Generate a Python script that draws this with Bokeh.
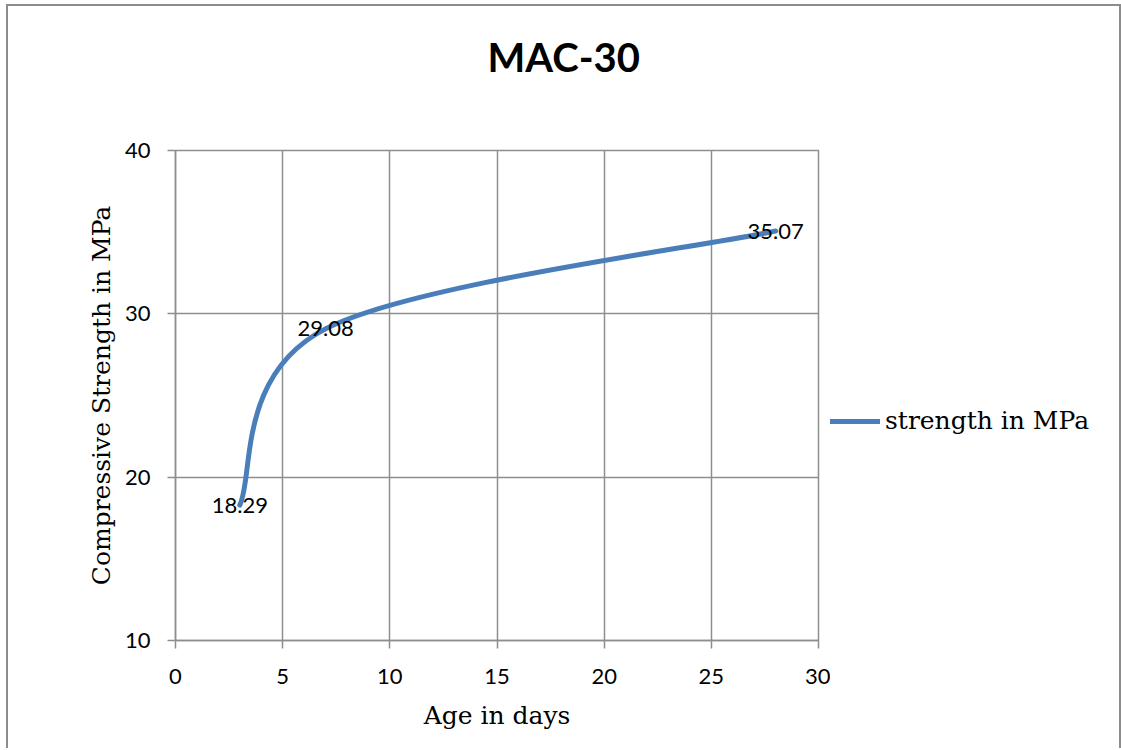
import numpy as np
from bokeh.plotting import figure
from bokeh.layouts import row
from bokeh.models import Range1d, FixedTicker, Legend, LegendItem, ColumnDataSource, Title
from bokeh.core.properties import value
from bokeh.embed import file_html
from bokeh.resources import INLINE

# Compressive strength of the MAC-30 mix at each curing age
age_days = [3, 7, 28]
strength_mpa = [18.29, 29.08, 35.07]
x_ticks = [0, 5, 10, 15, 20, 25, 30]
y_ticks = [10, 20, 30, 40]
series_name = "strength in MPa"
chart_title = "MAC-30"

GRID = "#8e8e8e"
LINE = "#4a7ebb"
SANS = "Lato"
SERIF = "DejaVu Serif"

W, H = 1111, 744           # whole chart area
PW = 822                   # plotting part; the legend strip takes the rest
ML, MT, MB = 167, 144, 110
frame_w = 643
frame_h = H - MT - MB
MR = PW - ML - frame_w

p = figure(
    width=PW, height=H,
    x_range=Range1d(0, 30), y_range=Range1d(10, 40),
    output_backend="svg", toolbar_location=None, title_location=None,
    min_border_left=ML, min_border_right=MR,
    min_border_top=MT, min_border_bottom=MB,
    background_fill_color="white", border_fill_color="white",
)

# chart title, centred over the full chart width; a blank spacer title
# keeps it clear of the plot frame
spacer = Title(text=" ", text_font_size="10px", standoff=52)
title = Title(
    text=chart_title, text_font=SANS, text_font_size="40px",
    text_font_style="bold", text_color="black",
    align="left", offset=312, standoff=10,
)
p.add_layout(spacer, "above")
p.add_layout(title, "above")

# frame and grid
p.outline_line_color = GRID
p.outline_line_width = 1.5
for g, t in ((p.xgrid, x_ticks), (p.ygrid, y_ticks)):
    g.ticker = FixedTicker(ticks=t)
    g.grid_line_color = GRID
    g.grid_line_width = 1.5

for ax, t in ((p.xaxis, x_ticks), (p.yaxis, y_ticks)):
    ax.ticker = FixedTicker(ticks=t)
    ax.axis_line_color = GRID
    ax.axis_line_width = 1.5
    ax.major_tick_line_color = GRID
    ax.major_tick_line_width = 1.5
    ax.major_tick_out = 8
    ax.major_tick_in = 0
    ax.minor_tick_line_color = None
    ax.major_label_text_font = SANS
    ax.major_label_text_font_size = "22px"
    ax.major_label_text_color = "black"
    ax.axis_label_text_font = SERIF
    ax.axis_label_text_font_size = "25px"
    ax.axis_label_text_font_style = "normal"
    ax.axis_label_text_color = "black"

p.xaxis.axis_label = "Age in days"
p.yaxis.axis_label = "Compressive Strength in MPa"
p.xaxis.major_label_standoff = 20
p.yaxis.major_label_standoff = 17
p.xaxis.axis_label_standoff = 14
p.yaxis.axis_label_standoff = 6

# smoothed line: cubic Bezier segments through the points, with tangents
# taken in screen-proportional space so the curve shape follows the layout
kx = frame_w / 30.0
ky = frame_h / 30.0
P = np.column_stack([np.array(age_days, float) * kx, np.array(strength_mpa, float) * ky])
n = len(P)
T = np.zeros_like(P)
T[0] = (P[1] - P[0]) / 2
T[-1] = (P[-1] - P[-2]) / 2
for i in range(1, n - 1):
    T[i] = (P[i + 1] - P[i - 1]) / 2
c0 = P[:-1] + T[:-1] / 3
c1 = P[1:] - T[1:] / 3

curve = ColumnDataSource(dict(
    x0=P[:-1, 0] / kx, y0=P[:-1, 1] / ky,
    x1=P[1:, 0] / kx, y1=P[1:, 1] / ky,
    cx0=c0[:, 0] / kx, cy0=c0[:, 1] / ky,
    cx1=c1[:, 0] / kx, cy1=c1[:, 1] / ky,
))
p.bezier(x0="x0", y0="y0", x1="x1", y1="y1",
         cx0="cx0", cy0="cy0", cx1="cx1", cy1="cy1",
         source=curve, line_color=LINE, line_width=5, line_cap="round")

# value labels centred on each point
labels = ColumnDataSource(dict(
    x=age_days, y=strength_mpa, t=[f"{v:.2f}" for v in strength_mpa],
))
p.text(x="x", y="y", text="t", source=labels,
       text_align="center", text_baseline="middle",
       text_font=value(SANS), text_font_size="22px", text_color="black")

# legend strip to the right of the plot frame (no axes);
# the series is repeated here only to give the legend its line key, and it
# falls outside this strip's ranges so nothing else is drawn
q = figure(
    width=W - PW, height=H,
    x_range=Range1d(0, 1), y_range=Range1d(0, 1),
    x_axis_type=None, y_axis_type=None,
    output_backend="svg", toolbar_location=None, title_location=None,
    min_border=0, background_fill_color="white", border_fill_color="white",
)
q.outline_line_color = None
key = q.line(x=age_days, y=strength_mpa, line_color=LINE, line_width=5, line_cap="round")

legend = Legend(
    items=[LegendItem(label=series_name, renderers=[key])],
    location=(0, 205),
    padding=0, margin=0, spacing=0,
    border_line_color=None, background_fill_alpha=0,
    glyph_width=50, glyph_height=20, label_standoff=5,
    label_text_font=SERIF, label_text_font_size="25px", label_text_color="black",
)
q.add_layout(legend)

chart = row(p, q)
chart.styles = {
    "margin-left": "8px",
    "margin-top": "6px",
    "box-shadow": "-2px -2px 0 0 #8c8c8c, 2px -2px 0 0 #8c8c8c",
}

open("out.html", "w").write(file_html(chart, INLINE))
